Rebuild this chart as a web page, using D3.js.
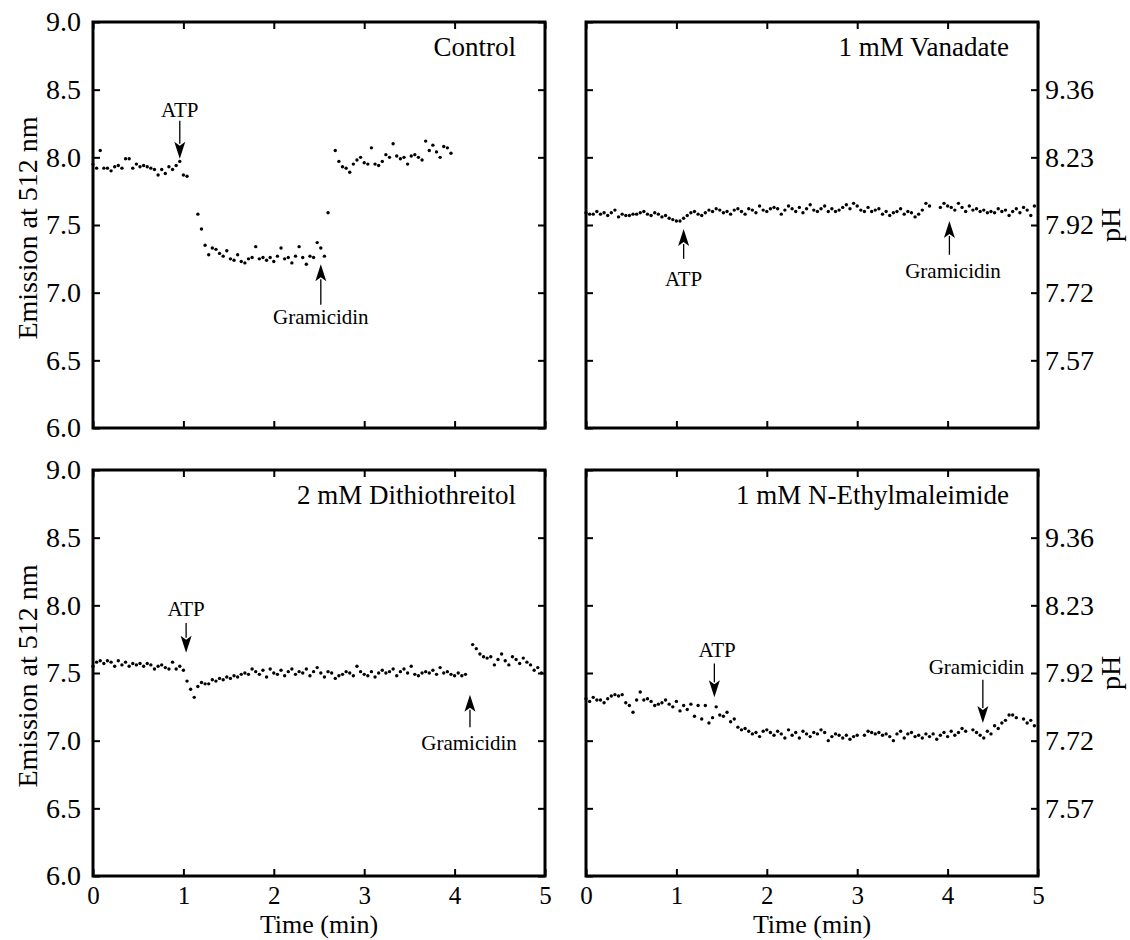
<!DOCTYPE html>
<html>
<head>
<meta charset="utf-8">
<script src="https://cdn.jsdelivr.net/npm/d3@7"></script>
<style>
    body { margin: 0; background: #fff; }
    svg text { font-family: "Liberation Serif", "Times New Roman", serif; fill: #000; }
</style>
</head>
<body>
<div id="chart"></div>
<script>

// readings were taken every 0.04 min; null = no reading (additions)
var sampleStep = 0.04;

var timeTicks     = [0, 1, 2, 3, 4, 5];
var emissionTicks = [6.0, 6.5, 7.0, 7.5, 8.0, 8.5, 9.0];
var phTickAt      = [8.5, 8.0, 7.5, 7.0, 6.5];
var phTickLabels  = ['9.36', '8.23', '7.92', '7.72', '7.57'];

var panelTitles = ['Control', '1 mM Vanadate', '2 mM Dithiothreitol', '1 mM N-Ethylmaleimide'];

var controlValues = [
    7.95, 7.92, 8.05, 7.92, 7.92, 7.90, 7.93, 7.94, 7.92, 7.99,
    7.99, 7.92, 7.95, 7.93, 7.94, 7.93, 7.92, 7.91, 7.87, 7.91,
    7.88, 7.93, 7.91, 7.94, 7.97, 7.87, 7.86, null, null, 7.58,
    7.47, 7.35, 7.28, 7.33, 7.32, 7.29, 7.27, 7.31, 7.25, 7.24,
    7.28, 7.23, 7.22, 7.25, 7.26, 7.34, 7.25, 7.26, 7.24, 7.26,
    7.23, 7.27, 7.33, 7.25, 7.26, 7.22, 7.27, 7.34, 7.26, 7.21,
    7.27, 7.26, 7.37, 7.33, 7.27, 7.59, null, 8.05, 7.97, 7.93,
    7.92, 7.89, 7.95, 7.98, 8.00, 7.96, 7.95, 8.07, 7.95, 7.94,
    7.97, 8.02, 8.00, 8.10, 8.01, 7.99, 8.00, 7.95, 8.01, 8.02,
    8.00, 7.98, 8.12, 8.05, 8.09, 8.04, 8.00, 8.08, 8.07, 8.03
];

var vanadateValues = [
    7.59, 7.58, 7.58, 7.60, 7.58, 7.59, 7.57, 7.59, 7.61, 7.56,
    7.58, 7.57, 7.57, 7.58, 7.58, 7.59, 7.60, 7.58, 7.57, 7.59,
    7.58, 7.56, 7.57, 7.55, 7.54, 7.53, 7.53, 7.55, 7.57, 7.59,
    7.60, 7.58, 7.57, 7.59, 7.61, 7.60, 7.62, 7.61, 7.59, 7.60,
    7.58, 7.61, 7.62, 7.60, 7.58, 7.62, 7.61, 7.59, 7.64, 7.61,
    7.60, 7.62, 7.63, 7.62, 7.58, 7.61, 7.64, 7.62, 7.60, 7.63,
    7.59, 7.62, 7.65, 7.61, 7.60, 7.62, 7.64, 7.60, 7.62, 7.60,
    7.61, 7.63, 7.65, 7.62, 7.66, 7.64, 7.61, 7.60, 7.63, 7.60,
    7.61, 7.62, 7.58, 7.60, 7.57, 7.59, 7.60, 7.62, 7.58, 7.60,
    7.59, 7.56, 7.58, 7.61, 7.66, 7.64, null, null, 7.63, 7.66,
    7.64, 7.63, 7.61, 7.66, 7.63, 7.60, 7.64, 7.61, 7.62, 7.60,
    7.61, 7.59, 7.60, 7.59, 7.62, 7.60, 7.61, 7.57, 7.60, 7.62,
    7.59, 7.63, 7.61, 7.57, 7.64
];

var dttValues = [
    7.55, 7.58, 7.59, 7.57, 7.59, 7.58, 7.55, 7.59, 7.56, 7.58,
    7.55, 7.57, 7.56, 7.57, 7.55, 7.57, 7.56, 7.53, 7.55, 7.56,
    7.54, 7.53, 7.58, 7.53, 7.55, 7.52, 7.44, 7.38, 7.32, 7.40,
    7.43, 7.42, 7.42, 7.45, 7.44, 7.46, 7.45, 7.47, 7.46, 7.48,
    7.47, 7.49, 7.50, 7.49, 7.53, 7.51, 7.49, 7.52, 7.47, 7.53,
    7.50, 7.49, 7.52, 7.48, 7.51, 7.53, 7.49, 7.51, 7.50, 7.53,
    7.48, 7.51, 7.54, 7.50, 7.47, 7.51, 7.50, 7.46, 7.48, 7.49,
    7.51, 7.50, 7.48, 7.55, 7.51, 7.49, 7.48, 7.51, 7.47, 7.50,
    7.52, 7.50, 7.51, 7.53, 7.48, 7.51, 7.53, 7.50, 7.55, 7.49,
    7.48, 7.50, 7.51, 7.50, 7.52, 7.49, 7.54, 7.50, 7.51, 7.49,
    7.48, 7.50, 7.48, 7.49, null, 7.71, 7.68, 7.64, 7.62, 7.61,
    7.62, 7.56, 7.60, 7.64, 7.59, 7.56, 7.62, 7.60, 7.57, 7.61,
    7.58, 7.56, 7.52, 7.54, 7.50
];

var nemValues = [
    7.31, 7.29, 7.32, 7.30, 7.30, 7.28, 7.31, 7.33, 7.34, 7.33,
    7.34, 7.28, 7.26, 7.21, 7.30, 7.36, 7.30, 7.31, 7.29, 7.26,
    7.27, 7.28, 7.30, 7.27, 7.25, 7.29, 7.22, 7.26, 7.23, 7.27,
    7.18, 7.26, 7.16, 7.26, 7.13, 7.17, 7.25, 7.19, 7.18, 7.21,
    7.14, 7.16, 7.10, 7.08, 7.09, 7.07, 7.05, 7.06, 7.03, 7.07,
    7.08, 7.06, 7.04, 7.07, 7.05, 7.02, 7.08, 7.04, 7.06, 7.02,
    7.07, 7.05, 7.03, 7.06, 7.05, 7.08, 7.06, 7.00, 7.03, 7.05,
    7.04, 7.02, 7.04, 7.01, 7.03, 7.04, null, 7.04, 7.07, 7.06,
    7.05, 7.06, 7.04, 7.05, 7.03, 7.00, 7.05, 7.07, 7.02, 7.05,
    7.06, 7.03, 7.04, 7.02, 7.05, 7.03, 7.05, 7.01, 7.04, 7.06,
    7.03, 7.07, 7.04, 7.06, 7.09, 7.07, null, 7.08, 7.06, 7.04,
    7.02, 7.07, 7.05, 7.11, 7.09, 7.13, 7.15, 7.19, 7.19, 7.17,
    null, 7.16, 7.13, 7.15, 7.11
];

// arrows: t = time of the addition, label = label baseline, tail / tip in emission units
var controlNotes  = [ { text: 'ATP',        t: 0.96, labelT: 0.96, label: 8.30, tail: 8.27, tip: 7.99 },
                      { text: 'Gramicidin', t: 2.52, labelT: 2.52, label: 6.77, tail: 6.91, tip: 7.21 } ];
var vanadateNotes = [ { text: 'ATP',        t: 1.08, labelT: 1.08, label: 7.05, tail: 7.25, tip: 7.47 },
                      { text: 'Gramicidin', t: 4.02, labelT: 4.06, label: 7.11, tail: 7.28, tip: 7.53 } ];
var dttNotes      = [ { text: 'ATP',        t: 1.03, labelT: 1.03, label: 7.92, tail: 7.87, tip: 7.65 },
                      { text: 'Gramicidin', t: 4.17, labelT: 4.16, label: 6.93, tail: 7.10, tip: 7.34 } ];
var nemNotes      = [ { text: 'ATP',        t: 1.42, labelT: 1.45, label: 7.62, tail: 7.57, tip: 7.32 },
                      { text: 'Gramicidin', t: 4.39, labelT: 4.32, label: 7.49, tail: 7.45, tip: 7.13 } ];


function PanelFigure ()
{
    var width  = 1130;
    var height = 940;
    var panelW = 452;
    var panelH = 406;

    var svg = d3.select ('#chart')
                .append ('svg')
                .attr ('width', width)
                .attr ('height', height)
                .style ('background', '#fff');

    var panels = [
        { title: panelTitles[0], values: controlValues,  notes: controlNotes,  x: 93,  y: 22,  side: 'left',  bottom: false },
        { title: panelTitles[1], values: vanadateValues, notes: vanadateNotes, x: 586, y: 22,  side: 'right', bottom: false },
        { title: panelTitles[2], values: dttValues,      notes: dttNotes,      x: 93,  y: 470, side: 'left',  bottom: true  },
        { title: panelTitles[3], values: nemValues,      notes: nemNotes,      x: 586, y: 470, side: 'right', bottom: true  }
    ];

    panels.forEach (drawPanel);

    //
    // one panel: frame, inward ticks, dots and arrows
    //
    function drawPanel (p)
    {
        var g = svg.append ('g')
                   .attr ('transform', 'translate(' + p.x + ',' + p.y + ')');

        var xScale = d3.scaleLinear ()
                       .domain ( [ 0, 5 ] )
                       .range ( [ 0, panelW ] );

        var yScale = d3.scaleLinear ()
                       .domain ( [ 6, 9 ] )
                       .range ( [ panelH, 0 ] );

        // left side
        var yLeft = d3.axisLeft (yScale)
                      .tickValues (emissionTicks)
                      .tickSize (-7)
                      .tickPadding (12)
                      .tickFormat (p.side == 'left' ? d3.format ('.1f') : '');

        var gl = g.append ('g').call (yLeft);
        styleAxis (gl, 28);

        // right side
        var yRight = d3.axisRight (yScale)
                       .tickValues (p.side == 'right' ? phTickAt : emissionTicks)
                       .tickSize (-7)
                       .tickPadding (7)
                       .tickFormat (function (d, i) { return p.side == 'right' ? phTickLabels[i] : ''; });

        var gr = g.append ('g')
                  .attr ('transform', 'translate(' + panelW + ',0)')
                  .call (yRight);
        styleAxis (gr, 28);

        // top
        var gt = g.append ('g')
                  .call (d3.axisTop (xScale).tickValues (timeTicks).tickSize (-7).tickFormat (''));
        styleAxis (gt, 26);

        // bottom
        var xBottom = d3.axisBottom (xScale)
                        .tickValues (timeTicks)
                        .tickSize (-7)
                        .tickPadding (10)
                        .tickFormat (p.bottom ? d3.format ('d') : '');

        var gb = g.append ('g')
                  .attr ('transform', 'translate(0,' + panelH + ')')
                  .call (xBottom);
        styleAxis (gb, 25);

        g.append ('rect')
         .attr ('x', 0)
         .attr ('y', 0)
         .attr ('width', panelW)
         .attr ('height', panelH)
         .attr ('fill', 'none')
         .attr ('stroke', '#000')
         .attr ('stroke-width', 3);

        // readings
        var points = p.values.map (function (v, i) { return { t: i * sampleStep, v: v }; })
                             .filter (function (d) { return d.v != null; });

        g.selectAll ('circle.pt')
         .data (points)
         .enter ()
         .append ('circle')
         .attr ('class', 'pt')
         .attr ('cx', function (d) { return xScale (d.t); })
         .attr ('cy', function (d) { return yScale (d.v); })
         .attr ('r', 1.7)
         .attr ('fill', '#000');

        // title
        g.append ('text')
         .attr ('x', xScale (4.68))
         .attr ('y', yScale (8.75))
         .attr ('text-anchor', 'end')
         .attr ('font-size', 27)
         .text (p.title);

        // additions
        p.notes.forEach (function (n)
        {
            var ax = xScale (n.t);
            var y0 = yScale (n.tail);
            var y1 = yScale (n.tip);
            var dir = y1 > y0 ? 1 : -1;
            var headLen = 17;

            g.append ('line')
             .attr ('x1', ax).attr ('x2', ax)
             .attr ('y1', y0).attr ('y2', y1 - dir * headLen + dir * 2)
             .attr ('stroke', '#000')
             .attr ('stroke-width', 1.3);

            g.append ('path')
             .attr ('d', 'M' + ax + ',' + y1 +
                         'L' + (ax - 5.5) + ',' + (y1 - dir * headLen) +
                         'L' + ax + ',' + (y1 - dir * (headLen - 4)) +
                         'L' + (ax + 5.5) + ',' + (y1 - dir * headLen) + 'Z')
             .attr ('fill', '#000');

            g.append ('text')
             .attr ('x', xScale (n.labelT))
             .attr ('y', yScale (n.label))
             .attr ('text-anchor', 'middle')
             .attr ('font-size', 21)
             .text (n.text);
        } );

        // axis titles
        if (p.side == 'left')
        {
            g.append ('text')
             .attr ('transform', 'translate(' + (37 - p.x) + ',' + (panelH / 2 + 3) + ') rotate(-90)')
             .attr ('text-anchor', 'middle')
             .attr ('font-size', 28)
             .text ('Emission at 512 nm');
        }
        else
        {
            g.append ('text')
             .attr ('transform', 'translate(' + (1120 - p.x) + ',' + yScale (7.5) + ') rotate(-90)')
             .attr ('text-anchor', 'middle')
             .attr ('font-size', 28)
             .text ('pH');
        }

        if (p.bottom)
        {
            g.append ('text')
             .attr ('x', panelW / 2)
             .attr ('y', panelH + 57)
             .attr ('text-anchor', 'middle')
             .attr ('font-size', 26)
             .text ('Time (min)');
        }
    }

    function styleAxis (sel, fontSize)
    {
        sel.select ('.domain').remove ();
        sel.selectAll ('.tick line')
           .attr ('stroke', '#000')
           .attr ('stroke-width', 2);
        sel.selectAll ('.tick text')
           .attr ('font-size', fontSize)
           .attr ('font-family', '"Liberation Serif", "Times New Roman", serif')
           .attr ('fill', '#000');
    }
}

PanelFigure ();

</script>
</body>
</html>
